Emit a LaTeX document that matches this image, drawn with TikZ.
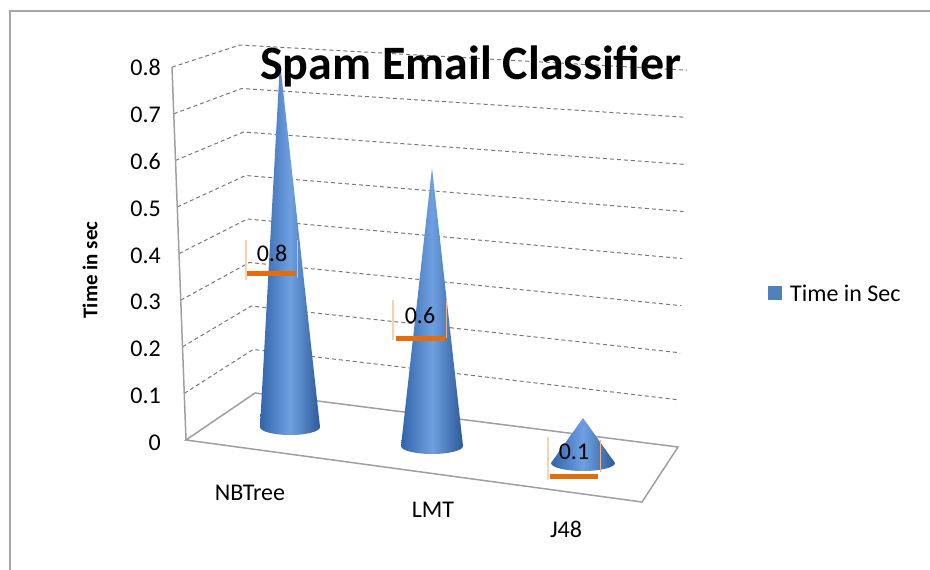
\documentclass[tikz,border=0pt]{standalone}
\usepackage{fontspec}
\setmainfont{Carlito}
\usetikzlibrary{arrows.meta}

\definecolor{conebase}{RGB}{79,129,189}
\definecolor{conedark}{RGB}{50,100,170}
\definecolor{conelight}{RGB}{110,160,225}
\definecolor{lblorange}{RGB}{228,108,10}
\definecolor{gridgray}{RGB}{120,120,120}

\begin{document}
\begin{tikzpicture}[x=1pt, y=-1pt, every node/.style={font=\fontsize{24}{28}\selectfont, inner sep=0pt},
	grid/.style={gridgray, line width=1pt, dash pattern=on 4pt off 3pt},
	wall/.style={gray!75, line width=1.5pt},
	cone/.style={left color=conedark, right color=conedark!90!black, middle color=conelight},
	lblbar/.style={lblorange, line width=5pt},
	lblside/.style={lblorange!30, line width=2.5pt}]
	\useasboundingbox (0,0) rectangle (930,570);
	% frame
	\draw[gray!70, line width=1.5pt] (10,570) -- (10,11) -- (930,11);
	% walls and grid
	\foreach \i in {1,...,8} {
		\draw[grid] ({186-1.75*\i},{440-46.6*\i}) -- ({255-1.9*\i},{393-43.5*\i}) -- ({678+1.1*\i},{447-47.1*\i});
	}
	\draw[wall] (172,67) -- (186,440);
	\draw[wall] (186,440) -- (255,393) -- (678,447) -- (642,502) -- cycle;
	% y axis labels
	\foreach \i/\v in {0/0,1/0.1,2/0.2,3/0.3,4/0.4,5/0.5,6/0.6,7/0.7,8/0.8} {
		\node[anchor=east] (ytick\i) at (161,{443-46.9*\i}) {\v};
	}
	\node[rotate=90, font=\fontsize{21}{24}\selectfont\bfseries] (ytitle) at (90,270) {Time in sec};
	% cones
	\foreach \ax/\ay/\cx/\cy/\r in {280/62/290/427/30, 432/168/432/446/31, 583/418/583/463/32} {
		\shade[cone] (\ax,\ay) -- (\cx-\r,\cy) arc[start angle=180, end angle=0, x radius=\r, y radius=8] -- cycle;
	}
	% data labels
	\draw[lblside] (246,240) -- (246,280);
	\draw[lblorange!50, line width=1pt] (297,240) -- (297,278);
	\draw[lblbar] (247,273) -- (296,273);
	\node (lblnb) at (272,253) {0.8};
	\draw[lblside] (393,300) -- (393,340);
	\draw[lblorange!50, line width=1pt] (446,300) -- (446,338);
	\draw[lblbar] (396,338) -- (445,338);
	\node (lbllmt) at (420,315) {0.6};
	\draw[lblside] (548,437) -- (548,480);
	\draw[lblorange!50, line width=1pt] (600,440) -- (600,472);
	\draw[lblbar] (550,476) -- (598,476);
	\node (lblj) at (574,452) {0.1};
	% categories
	\node (catnb) at (250,493) {NBTree};
	\node (catlmt) at (433,510) {LMT};
	\node (catj) at (566,529) {J48};
	% legend
	\fill[conebase] (768,286) rectangle (782,300);
	\node[anchor=west] (legend) at (790,293) {Time in Sec};
	% title
	\node[font=\fontsize{48}{56}\selectfont\bfseries] (title) at (471,66) {Spam Email Classifier};
\end{tikzpicture}
\end{document}
